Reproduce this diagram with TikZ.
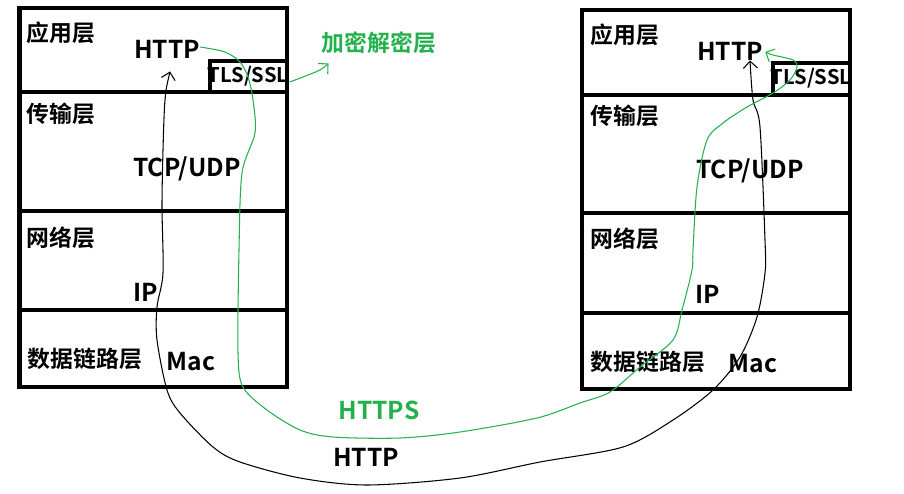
\documentclass[tikz,border=0pt]{standalone}
\usepackage{fontspec}
\newfontfamily\cjk{Noto Sans CJK SC}[BoldFont={Noto Sans CJK SC Bold}]
\usepackage{tikz}
\usetikzlibrary{arrows.meta}
\definecolor{paintgreen}{RGB}{34,177,76}
\tikzset{
  layer/.style={font=\cjk\bfseries\fontsize{13}{15}\selectfont, inner sep=0pt},
  proto/.style={font=\cjk\bfseries\fontsize{14}{16}\selectfont, inner sep=0pt},
  tls/.style={font=\cjk\bfseries\fontsize{11.5}{13}\selectfont, inner sep=0pt},
  box/.style={line width=2.3pt},
  flow/.style={line width=0.6pt, -{Straight Barb[length=4pt,width=8pt]}}
}

\begin{document}
\begin{tikzpicture}[x=0.02cm, y=-0.02cm]
        \useasboundingbox (0,0) rectangle (904,494);
        % left stack
        \draw[box] (19.5,8) rectangle (287,387);
        \foreach \y in {92,211,310}{\draw[box] (19.5,\y)--(287,\y);}
        \draw[box] (210,92)--(210,61)--(287,61);
        \node[layer] (lapp) at (61,33) {应用层};
        \node[proto] (lhttp) at (167,49) {HTTP};
        \node[tls] (ltls) at (248,76) {TLS/SSL};
        \node[layer] (ltrans) at (61,114) {传输层};
        \node[proto] (ltcp) at (187,169) {TCP/UDP};
        \node[layer] (lnet) at (61,238) {网络层};
        \node[proto] (lip) at (146,292) {IP};
        \node[layer] (llink) at (85,359) {数据链路层};
        \node[proto] (lmac) at (191,362) {Mac};
        % right stack
        \draw[box] (582,10) rectangle (850,389);
        \foreach \y in {95,213,313}{\draw[box] (582,\y)--(850,\y);}
        \draw[box] (773,95)--(773,63)--(850,63);
        \node[layer] (rapp) at (625,35) {应用层};
        \node[proto] (rhttp) at (730,51) {HTTP};
        \node[tls] (rtls) at (811,78) {TLS/SSL};
        \node[layer] (rtrans) at (625,116) {传输层};
        \node[proto] (rtcp) at (750,171) {TCP/UDP};
        \node[layer] (rnet) at (625,239) {网络层};
        \node[proto] (rip) at (708,294) {IP};
        \node[layer] (rlink) at (648,362) {数据链路层};
        \node[proto] (rmac) at (753,364) {Mac};
        % labels
        \node[layer, paintgreen] (crypto) at (379,43) {加密解密层};
        \node[proto, paintgreen] (https) at (379,410) {HTTPS};
        \node[proto] (http) at (366,457) {HTTP};
        % connectors
        \coordinate (lup) at ([shift={(3,13)}]lhttp.south);
        \coordinate (rup) at ([shift={(20,0)}]rhttp.south);
        \coordinate (lout) at ([shift={(0,-2)}]lhttp.east);
        \coordinate (rin) at ([shift={(2,1)}]rhttp.east);
        \coordinate (tlsout) at ([shift={(1,6)}]ltls.east);
        \coordinate (cryin) at ([shift={(7,9)}]crypto.south west);
        \draw[flow, {Straight Barb[length=4pt,width=8pt]}-{Straight Barb[length=4pt,width=8pt]}]
          plot[smooth, tension=0.5] coordinates {(lup) (165,100) (163,150) (162,207) (163,273)
          (157,307) (157,340) (167,390) (180,413) (213,447) (240,462) (300,478) (367,485)
          (460,478) (540,462) (623,447) (673,420) (713,390) (740,357) (757,317) (765,273)
          (765,240) (760,127) (753,100) (rup)};
        \draw[flow, paintgreen] plot[smooth, tension=0.5] coordinates {(lout) (225,52) (240,62)
          (248,77) (253,100) (255,133) (242,173) (239,250) (238,353) (243,387) (267,410)
          (300,430) (333,437) (400,438) (460,432) (537,418) (580,403) (610,392) (640,367)
          (673,340) (682,310) (692,270) (693,250) (697,187) (707,140) (723,123) (747,107)
          (773,93) (790,80) (797,67) (793,60) (773,55) (rin)};
        \draw[flow, paintgreen] plot[smooth, tension=0.5] coordinates {(tlsout) (303,77) (320,70) (cryin)};
      \end{tikzpicture}
\end{document}
